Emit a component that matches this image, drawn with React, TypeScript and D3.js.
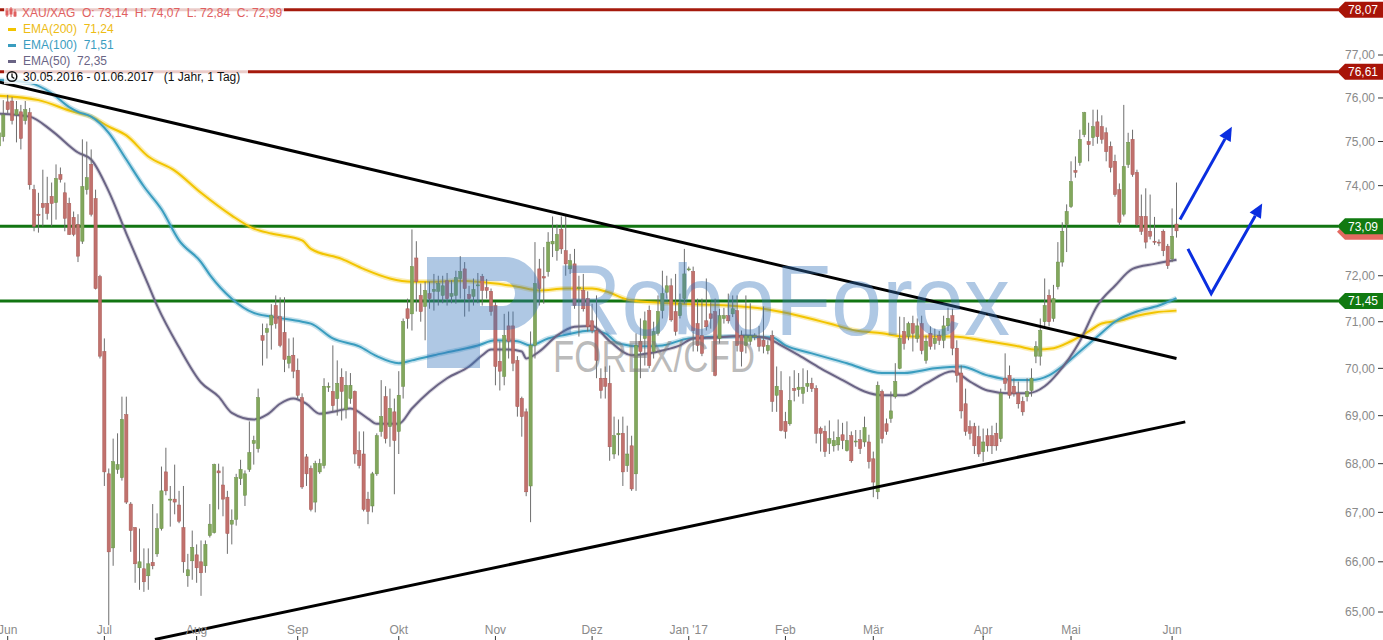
import React from 'react';
import * as d3 from 'd3';

// ---- candle data (XAU/XAG daily, 30.05.2016 - 01.06.2017) ----
const opens = [74.90,75.11,75.91,75.93,75.61,75.68,75.48,75.66,73.91,73.36,
73.60,73.60,73.76,73.62,74.25,73.84,73.60,73.29,73.13,72.76,
73.91,74.48,73.71,71.98,70.36,67.79,66.28,67.88,67.71,69.02,
67.17,66.69,65.88,65.86,65.72,65.99,66.16,66.67,67.83,67.25,
67.27,67.15,66.69,65.72,66.02,66.14,66.00,65.92,66.53,66.59,
67.85,67.56,67.31,66.76,66.86,67.69,67.35,67.88,68.42,68.31,
70.70,70.77,70.93,71.35,71.11,70.77,70.11,70.28,69.96,69.38,
68.14,67.90,67.21,67.83,67.96,69.60,69.51,69.36,69.81,69.13,
69.36,69.51,68.27,68.20,67.27,67.13,67.79,68.67,69.40,68.77,
69.08,68.67,69.62,71.28,71.17,72.39,71.57,71.33,71.61,71.66,
71.66,71.57,71.89,71.55,71.57,71.94,72.15,71.59,71.55,71.78,
71.98,71.74,71.66,71.35,70.15,69.83,70.91,70.91,70.17,69.36,
69.08,67.54,70.49,72.15,71.98,72.09,72.70,72.55,73.02,72.55,
72.15,72.26,71.72,71.68,71.50,71.02,70.81,69.79,69.79,69.68,
68.20,68.60,68.63,67.96,68.37,67.79,70.58,70.64,71.24,70.36,
70.75,71.24,71.64,71.78,71.22,71.13,71.50,72.13,72.09,70.96,
70.70,71.02,71.17,71.22,70.64,71.07,71.13,71.17,71.24,70.70,
70.49,70.58,70.70,70.64,70.60,70.38,70.70,69.43,69.53,68.88,
68.83,69.57,69.55,69.47,69.62,69.68,69.57,68.73,68.67,68.42,
68.37,68.39,68.60,68.27,68.58,68.45,68.50,68.45,68.45,68.10,
67.42,69.51,68.83,68.94,69.40,70.00,70.79,70.68,70.96,70.64,
70.96,70.17,70.75,70.53,70.70,70.60,70.91,71.13,70.43,69.90,
69.25,68.77,68.77,68.56,68.25,68.58,68.58,68.63,68.52,69.79,
69.85,69.62,69.47,69.30,69.40,69.53,70.26,70.26,71.00,71.57,
71.07,71.76,72.30,73.13,73.53,74.34,74.52,75.16,75.00,75.09,
75.45,75.34,75.20,74.89,74.55,73.91,73.36,74.48,75.05,74.30,
73.31,73.31,72.98,72.76,72.74,72.98,72.65,72.37,73.14];

const highs = [76.10,75.95,76.07,76.02,75.93,75.84,75.93,75.77,74.02,73.84,
74.36,74.20,74.07,74.48,74.41,74.07,73.73,73.42,73.36,75.05,
75.00,74.82,73.91,72.02,70.64,67.90,68.52,68.63,69.40,69.40,
67.21,66.70,66.67,66.27,66.27,67.17,66.98,67.94,68.33,67.54,
67.98,67.44,67.54,66.16,66.63,66.35,66.43,66.43,67.17,68.00,
68.00,67.94,67.44,67.06,67.79,68.08,67.86,68.88,68.58,69.57,
70.96,70.96,71.38,71.57,71.53,71.53,70.64,70.66,70.21,69.47,
68.20,67.96,68.06,68.10,69.79,69.70,70.49,70.17,70.00,69.94,
69.90,69.53,68.67,68.67,67.42,67.83,68.63,69.75,69.62,69.57,
69.36,69.94,71.07,71.50,73.02,72.76,71.83,71.87,71.87,72.04,
72.00,72.00,72.06,71.90,72.11,72.43,72.30,71.78,71.94,72.06,
72.04,71.93,71.72,71.43,70.58,71.17,71.22,71.22,70.26,69.40,
69.15,70.79,72.74,72.37,72.63,72.96,73.31,73.13,73.31,73.36,
72.48,72.59,72.00,72.04,71.66,71.39,71.57,70.00,70.04,70.06,
68.98,68.92,68.98,68.79,68.58,70.75,71.07,71.22,71.35,71.00,
71.57,72.11,72.00,71.94,72.04,71.61,72.59,72.20,72.20,71.50,
71.50,71.94,71.43,71.50,71.28,71.30,71.61,71.57,71.57,70.81,
71.57,71.40,70.75,70.91,71.33,70.60,70.81,70.04,69.94,69.08,
69.83,69.96,69.90,70.00,69.96,69.80,69.64,68.77,68.79,68.90,
68.67,68.92,68.85,68.88,68.67,68.70,68.70,68.98,68.60,68.25,
69.72,69.55,68.94,69.51,70.11,71.11,71.10,71.00,71.13,71.07,
71.13,70.70,70.90,70.85,70.80,71.13,71.30,71.28,70.60,70.06,
69.57,68.90,68.85,68.79,68.73,68.73,68.79,68.85,69.57,70.32,
70.06,69.79,69.72,69.40,69.79,70.00,70.58,71.07,71.94,71.70,
71.80,72.74,73.18,73.58,74.55,74.66,75.27,75.68,75.43,75.73,
75.73,75.60,75.32,75.00,74.70,74.05,75.84,75.20,75.27,74.36,
73.80,73.94,73.80,73.30,72.80,73.02,72.70,73.49,74.07];

const lows = [74.70,75.00,75.64,75.39,74.98,74.82,75.39,73.91,72.98,72.95,
73.09,73.24,73.09,73.24,74.07,72.98,72.90,72.87,72.30,72.70,
73.80,73.31,71.70,70.21,67.54,64.74,65.92,67.79,67.65,67.17,
66.20,65.58,65.44,65.40,65.44,65.85,66.10,66.63,67.35,66.71,
66.96,66.78,65.78,65.50,65.64,65.58,65.32,65.78,66.49,66.57,
67.06,66.92,66.16,66.35,66.73,67.56,67.13,67.83,67.98,68.23,
70.06,70.21,70.40,70.85,70.45,69.92,70.00,69.79,69.36,67.48,
67.54,67.02,67.00,67.79,67.90,69.50,69.08,69.00,68.90,68.94,
69.25,68.00,67.90,67.02,66.76,67.00,67.75,68.56,68.42,68.35,
67.37,68.20,69.36,70.85,70.81,71.22,71.00,70.60,71.28,71.24,
71.35,71.40,71.35,71.40,71.39,71.50,71.11,71.22,71.35,71.40,
71.35,71.50,71.13,69.64,69.53,69.64,70.21,69.94,68.98,68.56,
67.33,66.80,70.21,71.35,71.39,71.98,72.41,72.33,72.48,72.00,
72.04,71.28,70.68,71.22,70.79,70.75,69.79,69.36,69.36,68.06,
68.10,68.17,67.54,67.83,67.44,67.44,69.79,70.06,70.00,70.21,
70.70,71.07,71.50,71.00,70.70,71.07,71.39,72.10,70.36,70.36,
70.26,70.81,70.85,69.83,70.53,70.96,70.96,71.10,70.36,70.04,
70.32,70.49,70.60,70.36,70.32,70.30,69.08,69.08,68.67,68.52,
68.79,69.30,69.40,69.25,69.50,69.50,68.42,68.25,68.14,68.20,
68.25,68.27,68.30,68.25,68.02,68.35,68.20,68.35,67.90,67.31,
67.27,68.42,68.60,68.85,69.36,69.98,70.40,70.60,70.36,70.55,
70.30,70.10,70.40,70.40,70.50,70.43,70.80,70.28,69.70,68.94,
68.58,68.50,68.20,68.14,68.04,68.25,68.20,68.27,68.45,69.53,
69.36,69.40,69.15,69.00,69.30,69.40,70.11,70.06,70.85,70.90,
71.00,71.70,72.20,72.52,73.50,74.18,74.45,75.10,74.55,74.90,
74.95,74.95,74.55,74.30,73.75,73.10,73.31,74.40,74.20,73.09,
72.90,72.60,72.80,72.68,72.65,72.43,72.15,72.30,72.84];

const closes = [75.20,75.61,75.73,75.48,75.73,75.07,75.73,74.02,73.09,73.33,
73.51,73.38,73.60,74.16,74.14,73.27,72.91,72.91,72.43,73.98,
74.18,73.36,71.72,70.26,67.83,66.20,68.04,67.98,68.92,67.21,
66.63,65.96,66.00,65.60,65.96,65.92,66.67,67.44,67.44,67.27,
67.21,66.82,66.00,65.84,66.29,65.88,65.78,66.35,66.76,67.98,
67.81,67.27,66.57,66.84,67.71,67.88,67.79,68.23,68.48,69.38,
70.60,70.85,71.13,70.96,70.49,70.19,70.26,69.94,69.43,67.52,
67.79,67.06,68.00,68.00,69.62,69.62,69.21,69.68,69.51,69.64,
69.64,68.20,67.96,67.06,67.02,67.79,68.58,68.98,68.52,69.15,
68.48,69.43,71.00,71.07,72.20,71.87,71.22,71.68,71.50,71.70,
71.83,71.78,71.50,71.61,71.96,72.09,71.72,71.50,71.70,71.80,
71.68,71.68,71.22,70.04,69.94,70.70,70.58,70.11,69.19,68.98,
67.42,70.49,71.83,71.72,71.95,72.74,72.76,72.91,72.59,72.26,
72.33,71.35,71.75,71.28,70.89,70.81,70.17,69.53,69.62,68.35,
68.58,68.63,67.83,68.20,67.48,70.49,70.36,71.02,70.06,70.79,
71.22,71.61,71.78,71.04,70.79,71.39,72.04,72.15,70.81,70.49,
70.32,70.89,71.07,69.85,71.13,71.13,71.02,71.28,70.49,70.36,
70.70,70.70,70.70,70.47,70.47,70.49,69.30,69.62,68.69,68.67,
69.32,69.53,69.60,69.60,69.68,69.57,68.63,68.63,68.25,68.52,
68.48,68.54,68.48,68.48,68.06,68.47,68.31,68.75,68.04,67.62,
69.64,68.52,68.67,69.10,69.72,70.64,70.53,70.96,70.75,70.91,
70.38,70.58,70.47,70.64,70.60,70.91,71.07,70.43,69.85,69.10,
68.67,68.63,68.37,68.20,68.45,68.37,68.37,68.37,69.47,69.68,
69.43,69.47,69.25,69.08,69.51,69.79,70.47,70.81,71.35,71.00,
71.50,72.30,72.98,73.42,74.09,74.30,75.05,75.66,74.93,75.34,
75.11,75.05,74.77,74.41,73.80,73.18,74.43,74.98,74.25,73.13,
72.98,72.74,72.87,72.74,72.72,72.55,72.22,72.87,72.99];

// ---- EMA readings: [candle index, value] ----
const ema200 = [[0,76.05],[9,75.95],[17,75.68],[21,75.57],[25,75.34],[29,75.14],[34,74.66],[40,74.34],[46,73.84],[53,73.33],[58,73.04],[62,72.93],[69,72.78],[71,72.59],[78,72.37],[83,72.15],[89,71.94],[94,71.87],[100,71.87],[104,71.89],[109,71.87],[113,71.83],[118,71.76],[123,71.68],[129,71.72],[135,71.72],[138,71.66],[144,71.46],[155,71.39],[166,71.35],[174,71.28],[182,71.13],[189,70.96],[195,70.81],[201,70.75],[206,70.68],[217,70.68],[225,70.58],[232,70.47],[236,70.40],[240,70.43],[244,70.58],[248,70.79],[251,70.96],[255,71.02],[259,71.13],[263,71.20],[268,71.24]];
const ema100 = [[0,76.42],[7,76.35],[12,76.11],[16,75.79],[18,75.68],[21,75.57],[25,75.20],[29,74.59],[33,73.98],[37,73.47],[41,72.78],[46,72.30],[48,72.02],[53,71.50],[58,71.19],[62,71.11],[69,71.00],[71,70.96],[76,70.64],[82,70.47],[86,70.26],[91,70.11],[94,70.17],[99,70.28],[104,70.38],[109,70.49],[113,70.60],[118,70.58],[121,70.49],[125,70.64],[128,70.70],[135,70.81],[138,70.75],[141,70.53],[146,70.47],[151,70.49],[157,70.64],[166,70.68],[176,70.66],[179,70.49],[185,70.32],[193,70.11],[201,69.90],[206,69.90],[213,70.00],[219,70.04],[225,69.85],[231,69.75],[235,69.75],[239,69.85],[242,70.04],[246,70.36],[250,70.68],[254,71.00],[259,71.22],[264,71.35],[268,71.51]];
const ema50 = [[0,75.64],[7,75.57],[12,75.25],[18,74.75],[21,74.59],[25,73.87],[29,72.93],[34,71.80],[36,71.35],[41,70.45],[46,69.70],[50,69.40],[53,69.06],[58,68.92],[61,69.02],[64,69.25],[67,69.36],[70,69.25],[73,69.04],[77,69.10],[80,69.15],[84,68.94],[86,68.83],[91,68.83],[94,69.15],[98,69.51],[102,69.79],[107,70.04],[110,70.28],[112,70.40],[116,70.40],[119,70.36],[120,70.21],[123,70.36],[127,70.70],[131,70.89],[135,70.91],[139,70.58],[144,70.28],[148,70.32],[151,70.38],[155,70.49],[158,70.64],[163,70.66],[170,70.70],[175,70.64],[178,70.49],[182,70.28],[187,70.00],[192,69.75],[197,69.51],[201,69.43],[206,69.43],[211,69.68],[217,69.94],[221,69.72],[225,69.53],[230,69.47],[234,69.47],[238,69.62],[241,69.90],[246,70.58],[250,71.35],[254,71.78],[258,72.15],[263,72.26],[268,72.35]];

// ---- axes ----
const yTicks = [65, 66, 67, 68, 69, 70, 71, 72, 73, 74, 75, 76, 77];
const monthLabels = ['Jun', 'Jul', 'Aug', 'Sep', 'Okt', 'Nov', 'Dez', "Jan '17", 'Feb', 'Mär', 'Apr', 'Mai', 'Jun'];
const monthIndex = [2, 24, 45, 68, 91, 113, 135, 157, 179, 199, 224, 244, 267];

// ---- annotations ----
const redLevels = [78.07, 76.61];
const greenLevels = [73.09, 71.45];
const upperTrend = [[0, 76.37], [268, 70.21]];
const lowerTrend = [[35.5, 64.46], [270, 68.87]];
const arrowA = [[268.8, 73.24], [280.6, 75.34]];
const arrowB = [[270.6, 72.59], [275.9, 71.61], [287.5, 73.6]];

const W = 1383, H = 640;
const FONT = '"Liberation Sans", Arial, sans-serif';
const fmt = (v: number) => d3.format('.2f')(v).replace('.', ',');

const C_RED_LVL = '#a51a0c';
const C_GREEN_LVL = '#127512';
const C_Y = '#f2c400';
const C_T = '#3a9dbf';
const C_P = '#6a6485';

export default function App() {
  const x = d3.scaleLinear().domain([0, 268]).range([-1.1, 1176.5]);
  const y = d3.scaleLog().domain([65, 77]).range([612, 55]);
  const line = d3.line<number[]>().x(d => x(d[0])).y(d => y(d[1]));
  const smooth = d3.line<number[]>().x(d => x(d[0])).y(d => y(d[1])).curve(d3.curveMonotoneX);

  const n = closes.length;
  const last = n - 1;
  const badgeLevels = redLevels.concat(greenLevels);

  const badgePts = (v: number, dy = 0) => {
    const yy = y(v) + dy;
    return [[1337, yy], [1345, yy - 8], [1383, yy - 8], [1383, yy + 8], [1345, yy + 8]].map(p => p.join(',')).join(' ');
  };
  const badge = (v: number, fill: string, key: string) => (
    <g key={key}>
      <polygon points={badgePts(v)} fill={fill} />
      <text x={1348} y={y(v) + 4.3} fill="#fff" fontSize={12} fontFamily={FONT}>{fmt(v)}</text>
    </g>
  );

  const arrow = (pts: number[][], key: string) => {
    const px = pts.map(p => [x(p[0]), y(p[1])]);
    const a = px[px.length - 2], b = px[px.length - 1];
    const ang = Math.atan2(b[1] - a[1], b[0] - a[0]);
    const L = 14, w = 6.5;
    const base = [b[0] - L * Math.cos(ang), b[1] - L * Math.sin(ang)];
    const lp = px.slice(0, -1).concat([base]);
    const head = [b, [base[0] - w * Math.sin(ang), base[1] + w * Math.cos(ang)], [base[0] + w * Math.sin(ang), base[1] - w * Math.cos(ang)]];
    return (
      <g key={key}>
        <path d={d3.line()(lp as [number, number][]) || ''} fill="none" stroke="#0a2ee0" strokeWidth={3} strokeLinejoin="miter" />
        <polygon points={head.map(p => p.join(',')).join(' ')} fill="#0a2ee0" />
      </g>
    );
  };

  return (
    <svg width={W} height={H} style={{ position: 'absolute', left: 0, top: 0, display: 'block', background: '#fff' }} fontFamily={FONT}>
      <rect width={W} height={H} fill="#fff" />

      {/* level lines */}
      {redLevels.map((v, i) => (
        <line key={'r' + i} x1={0} x2={1338} y1={y(v)} y2={y(v)} stroke={C_RED_LVL} strokeWidth={3} />
      ))}
      {greenLevels.map((v, i) => (
        <line key={'g' + i} x1={0} x2={1338} y1={y(v)} y2={y(v)} stroke={C_GREEN_LVL} strokeWidth={3} />
      ))}

      {/* EMAs */}
      <path d={smooth(ema200) || ''} fill="none" stroke={C_Y} strokeOpacity={0.3} strokeWidth={5} />
      <path d={smooth(ema200) || ''} fill="none" stroke={C_Y} strokeWidth={2} />
      <path d={smooth(ema100) || ''} fill="none" stroke={C_T} strokeOpacity={0.3} strokeWidth={5} />
      <path d={smooth(ema100) || ''} fill="none" stroke={C_T} strokeWidth={2} />
      <path d={smooth(ema50) || ''} fill="none" stroke={C_P} strokeOpacity={0.25} strokeWidth={4} />
      <path d={smooth(ema50) || ''} fill="none" stroke={C_P} strokeWidth={2} />

      {/* candles */}
      {closes.map((c, i) => {
        const o = opens[i];
        const h = Math.max(highs[i], o, c);
        const l = Math.min(lows[i], o, c);
        const up = c >= o;
        const cx = x(i);
        const yt = y(Math.max(o, c));
        const yb = y(Math.min(o, c));
        return (
          <g key={'c' + i}>
            <line x1={cx} x2={cx} y1={y(h)} y2={y(l)} stroke="#6e6e6e" strokeWidth={1} />
            <rect x={cx - 1.6} y={yt} width={3.2} height={Math.max(1, yb - yt)}
              fill={up ? '#82a75d' : '#c1716d'} stroke={up ? '#6a8f47' : '#a85a56'} strokeWidth={0.5} />
          </g>
        );
      })}

      {/* trend lines */}
      <path d={line(upperTrend) || ''} stroke="#000" strokeWidth={3} fill="none" />
      <path d={line(lowerTrend) || ''} stroke="#000" strokeWidth={3} fill="none" />

      {/* arrows */}
      {arrow(arrowA, 'a1')}
      {arrow(arrowB, 'a2')}

      {/* watermark */}
      <g>
        <path fillRule="evenodd" fill="rgba(55,117,187,0.4)"
          d="M427,257 H505 A36,36.5 0 0 1 505,330 H480 V368 H427 Z M480,281 H503 A12,12.5 0 0 1 503,306 H480 Z" />
        <text x={555} y={335} fontSize={100} textLength={455} lengthAdjust="spacingAndGlyphs" fill="rgba(55,117,187,0.4)">RoboForex</text>
        <text x={553} y={372} fontSize={44} textLength={202} lengthAdjust="spacingAndGlyphs" fill="rgba(120,120,120,0.5)">FOREX/CFD</text>
      </g>

      {/* y axis (labels hidden under a level badge are not drawn) */}
      {yTicks.map(t => (
        <g key={'yt' + t}>
          {badgeLevels.every(b => Math.abs(y(b) - y(t)) > 12) && (
            <text x={1375} y={y(t) + 4.3} textAnchor="end" fontSize={12} fill="#8a8a8a">{fmt(t)}</text>
          )}
          <line x1={1378} x2={1383} y1={y(t)} y2={y(t)} stroke="#333" strokeWidth={1} />
        </g>
      ))}
      {/* badges */}
      {redLevels.map((v, i) => badge(v, '#a81408', 'br' + i))}
      <polygon points={badgePts(closes[last], 1)} fill="#e46a62" />
      {greenLevels.map((v, i) => badge(v, '#117a11', 'bg' + i))}

      {/* x axis */}
      {monthLabels.map((m, i) => (
        <g key={'m' + i}>
          <text x={x(monthIndex[i])} y={634} textAnchor="middle" fontSize={12} fill="#8a8a8a">{m}</text>
          <line x1={x(monthIndex[i])} x2={x(monthIndex[i])} y1={636} y2={640} stroke="#333" strokeWidth={1} />
        </g>
      ))}

      {/* legend */}
      <g fontSize={12}>
        <rect x={4} y={4} width={280} height={15} fill="#fff" fillOpacity={0.78} />
        <g stroke="#e06060" strokeWidth={1} fill="#e06060">
          <line x1={7} x2={7} y1={8} y2={17} /><rect x={6} y={11} width={2} height={4} />
          <line x1={11} x2={11} y1={7} y2={17} /><rect x={10} y={9} width={2} height={5} />
          <line x1={15} x2={15} y1={9} y2={17} /><rect x={14} y={12} width={2} height={4} />
        </g>
        <text x={22} y={16.5} fill="#e06060" xmlSpace="preserve" style={{ whiteSpace: 'pre' }}>{`XAU/XAG  O: ${fmt(opens[last])}  H: ${fmt(highs[last])}  L: ${fmt(lows[last])}  C: ${fmt(closes[last])}`}</text>

        <rect x={8} y={28} width={8} height={3} fill={C_Y} />
        <text x={23} y={33} fill="#edbc14" xmlSpace="preserve" style={{ whiteSpace: 'pre' }}>{`EMA(200)  ${fmt(ema200[ema200.length - 1][1])}`}</text>
        <rect x={8} y={44} width={8} height={3} fill={C_T} />
        <text x={23} y={49} fill={C_T} xmlSpace="preserve" style={{ whiteSpace: 'pre' }}>{`EMA(100)  ${fmt(ema100[ema100.length - 1][1])}`}</text>
        <rect x={8} y={60} width={8} height={3} fill={C_P} />
        <text x={23} y={65} fill={C_P} xmlSpace="preserve" style={{ whiteSpace: 'pre' }}>{`EMA(50)  ${fmt(ema50[ema50.length - 1][1])}`}</text>

        <rect x={4} y={69} width={244} height={15} fill="#fff" fillOpacity={0.78} />
        <circle cx={12} cy={76.5} r={4.8} fill="none" stroke="#111" strokeWidth={1.5} />
        <path d="M12,73.5 V76.8 L14.3,78.5" fill="none" stroke="#111" strokeWidth={1.3} />
        <text x={23} y={81} fill="#111" xmlSpace="preserve" style={{ whiteSpace: 'pre' }}>{'30.05.2016 - 01.06.2017   (1 Jahr, 1 Tag)'}</text>
      </g>
    </svg>
  );
}
